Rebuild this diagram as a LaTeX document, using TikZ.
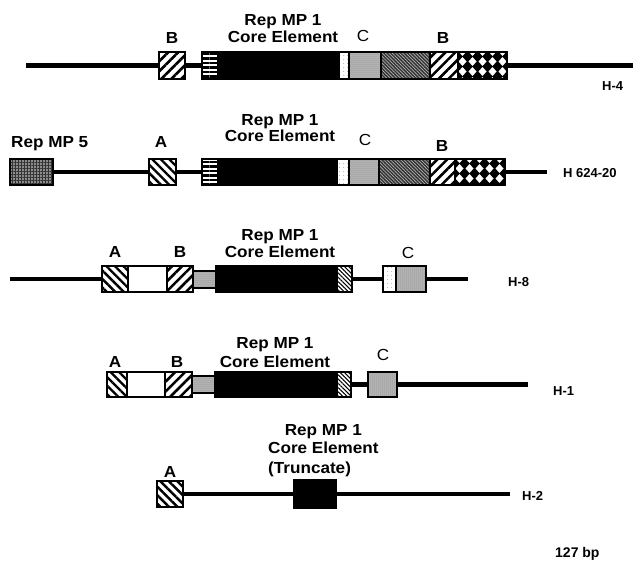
\documentclass[tikz,border=0pt]{standalone}
\usepackage{fontspec}
\setmainfont{Liberation Sans}
\newfontfamily\lblfont[FakeStretch=1.07]{Liberation Sans}
\usetikzlibrary{patterns.meta}
\tikzset{
 x=1pt,y=-1pt,
 seg/.style={draw=black, line width=1.1pt, inner sep=0pt, outer sep=0pt},
 blackseg/.style={seg, fill=black},
 whiteseg/.style={seg, fill=white},
 nehatch/.style={seg, preaction={fill=white}, pattern={Lines[angle=45,distance=7pt,line width=2.6pt]}},
 nwhatch/.style={seg, preaction={fill=white}, pattern={Lines[angle=-45,distance=6pt,line width=2.4pt]}},
 finehatch/.style={seg, preaction={fill=white}, pattern={Lines[angle=-45,distance=3pt,line width=1.1pt]}},
 hstripe/.style={seg, preaction={fill=white}, pattern={Lines[angle=0,distance=4.5pt,line width=2.2pt]}},
 stipple/.style={seg, preaction={fill=black!28}, pattern={Dots[distance=2pt,radius=0.5pt]}, pattern color=black!55},
 wdot/.style={seg, preaction={fill=white}, pattern={Dots[distance=4pt,radius=0.5pt]}, pattern color=black!50},
 darkdiag/.style={seg, preaction={fill=black!80}, pattern={Lines[angle=-45,distance=2.4pt,line width=0.7pt]}, pattern color=white!70!black},
 repfive/.style={seg, preaction={fill=black!45}, pattern={Hatch[angle=0,distance=3pt,line width=0.8pt]}, pattern color=black!80},
 dnaline/.style={line width=4.8pt},
 lab/.style={font=\lblfont\fontsize{16}{19}\selectfont\bfseries, inner sep=0pt, anchor=base},
 clab/.style={font=\lblfont\fontsize{16}{19}\selectfont, inner sep=0pt, anchor=base},
 hlab/.style={font=\fontsize{13}{16}\selectfont\bfseries, inner sep=0pt, anchor=base west},
}
\newcommand\blk[6]{\node[#6, minimum width={(#3-#2)*1pt}, minimum height={(#5-#4)*1pt}] (#1) at ({(#2+#3)/2},{(#4+#5)/2}) {};}
\newcommand\diamonds[4]{%
 \begin{scope}
 \clip (#1,#3) rectangle (#2,#4);
 \foreach \i in {0,...,5}{\foreach \j in {0,...,3}{
 \fill[white] ({#1+4.5+\i*10},{#3-0.5+\j*10}) +(-4,0) -- +(0,-4.5) -- +(4,0) -- +(0,4.5) -- cycle;
 }}
 \end{scope}
 \draw[line width=1.1pt] (#1,#3) rectangle (#2,#4);}
\begin{document}
\begin{tikzpicture}
\useasboundingbox (0,0) rectangle (634,567);
% ---------- Row 1: H-4
\blk{bA}{159}{185}{52}{79}{nehatch}
\blk{hsA}{202}{218}{52}{79}{hstripe}
\blk{bkA}{218}{339}{52}{79}{blackseg}
\blk{wdA}{339}{349}{52}{79}{wdot}
\blk{gsA}{349}{381}{52}{79}{stipple}
\blk{ddA}{381}{430}{52}{79}{darkdiag}
\blk{nbA}{430}{458}{52}{79}{nehatch}
\blk{dmA}{458}{507}{52}{79}{blackseg}
\diamonds{458}{507}{52}{79}
\coordinate (sA) at (26,65.5);
\coordinate (eA) at (633,65.5);
\draw[dnaline] (sA) -- (bA.west) (bA.east) -- (hsA.west) (dmA.east) -- (eA);
\node[lab] (tA1) at (283,26) {Rep MP 1};
\node[lab] (tA2) at (283,43) {Core Element};
\node[lab] (tAb) at (172,44) {B};
\node[clab] (tAc) at (363,42) {C};
\node[lab] (tAb2) at (443,44) {B};
\node[hlab] (hA) at (602,91) {H-4};
% ---------- Row 2: H 624-20
\blk{rB}{10}{53}{159}{185}{repfive}
\blk{aB}{149}{176}{159}{185}{nwhatch}
\blk{hsB}{202}{218}{159}{185}{hstripe}
\blk{bkB}{218}{337}{159}{185}{blackseg}
\blk{wdB}{337}{349}{159}{185}{wdot}
\blk{gsB}{349}{379}{159}{185}{stipple}
\blk{ddB}{379}{430}{159}{185}{darkdiag}
\blk{nbB}{430}{455}{159}{185}{nehatch}
\blk{dmB}{455}{505}{159}{185}{blackseg}
\diamonds{455}{505}{159}{185}
\coordinate (eB) at (547,172);
\draw[dnaline] (rB.east) -- (aB.west) (aB.east) -- (hsB.west) (dmB.east) -- (eB);
\node[lab, anchor=base west] (tB5) at (11,147) {Rep MP 5};
\node[lab] (tBa) at (161,147) {A};
\node[lab] (tB1) at (280,125) {Rep MP 1};
\node[lab] (tB2) at (280,141) {Core Element};
\node[clab] (tBc) at (365,146) {C};
\node[lab] (tBb) at (442,151) {B};
\node[hlab] (hB) at (563,177) {H 624-20};
% ---------- Row 3: H-8
\blk{aC}{102}{128}{266}{292}{nwhatch}
\blk{wC}{128}{167}{266}{292}{whiteseg}
\blk{bC}{167}{193}{266}{292}{nehatch}
\blk{gC}{193}{216}{271}{288}{stipple}
\blk{kC}{216}{337}{266}{292}{blackseg}
\blk{fC}{337}{352}{266}{292}{finehatch}
\blk{wcC}{383}{396}{266}{292}{wdot}
\blk{gcC}{396}{426}{266}{292}{stipple}
\coordinate (sC) at (10,279);
\coordinate (eC) at (468,279);
\draw[dnaline] (sC) -- (aC.west) (fC.east) -- (wcC.west) (gcC.east) -- (eC);
\node[lab] (tCa) at (115,257) {A};
\node[lab] (tCb) at (180,257) {B};
\node[lab] (tC1) at (280,240) {Rep MP 1};
\node[lab] (tC2) at (280,257) {Core Element};
\node[clab] (tCc) at (408,258) {C};
\node[hlab] (hC) at (508,286) {H-8};
% ---------- Row 4: H-1
\blk{aD}{107}{127}{372}{397}{nwhatch}
\blk{wD}{127}{165}{372}{397}{whiteseg}
\blk{bD}{165}{192}{372}{397}{nehatch}
\blk{gD}{192}{215}{376}{393}{stipple}
\blk{kD}{215}{337}{372}{397}{blackseg}
\blk{fD}{337}{351}{372}{397}{finehatch}
\blk{cD}{368}{397}{372}{397}{stipple}
\coordinate (eD) at (528,384.5);
\draw[dnaline] (fD.east) -- (cD.west) (cD.east) -- (eD);
\node[lab] (tDa) at (115,367) {A};
\node[lab] (tDb) at (177,367) {B};
\node[lab] (tD1) at (275,348) {Rep MP 1};
\node[lab] (tD2) at (275,367) {Core Element};
\node[clab] (tDc) at (383,360) {C};
\node[hlab] (hD) at (553,395) {H-1};
% ---------- Row 5: H-2
\blk{aE}{157}{183}{481}{507}{nwhatch}
\blk{kE}{294}{336}{480}{508}{blackseg}
\coordinate (eE) at (510,494);
\draw[dnaline] (aE.east) -- (kE.west) (kE.east) -- (eE);
\node[lab] (tEa) at (170,477) {A};
\node[lab, anchor=base west] (tE2) at (268,453) {Core Element};
\node[lab] (tE1) at (tE2.base |- 0,435) {Rep MP 1};
\node[lab, anchor=base west] (tE3) at (268,473) {(Truncate)};
\node[hlab] (hE) at (522,500) {H-2};
% ---------- scale
\node[hlab, font=\fontsize{14}{17}\selectfont\bfseries] (bp) at (555,557) {127 bp};
\end{tikzpicture}
\end{document}
